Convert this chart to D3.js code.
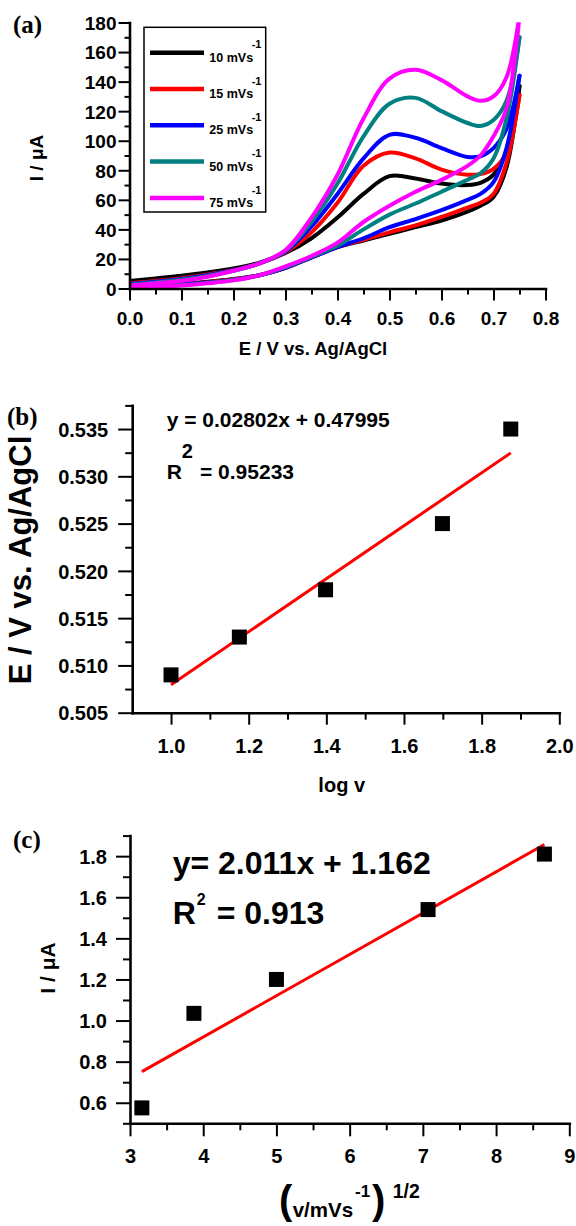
<!DOCTYPE html>
<html>
<head>
<meta charset="utf-8">
<script src="https://cdn.jsdelivr.net/npm/d3@7"></script>
<style>
  body { margin: 0; background: #fff; }
  svg text { font-family: "Liberation Sans", Arial, sans-serif; font-weight: bold; fill: #000; }
  svg text.panel { font-family: "Liberation Serif", "Times New Roman", serif; }
</style>
</head>
<body>
<svg id="fig" width="576" height="1226"></svg>
<script>
// ---------- (a) cyclic voltammograms at five scan rates ----------
const scanRates = ["10", "15", "25", "50", "75"];
const curveColors = ["#000000", "#ff0000", "#0000ff", "#008080", "#ff00ff"];
const potential = [0, 0.05, 0.1, 0.15, 0.2, 0.25, 0.3, 0.35, 0.4, 0.45, 0.5, 0.55, 0.6, 0.65, 0.675, 0.7, 0.725, 0.75];
// anodic (forward) and cathodic (reverse) branch currents, µA, on the potential grid above
const fwd10 = [5, 6.8, 8.6, 10.8, 13.5, 17.5, 24, 34, 48, 64, 76, 74.5, 71, 70, 71.5, 77, 93, 137];
const rev10 = [1.8, 2.3, 3, 4.5, 6.4, 9, 14, 21, 28, 32.5, 37, 41.5, 46, 52, 56, 62, 82, 137];
const fwd15 = [3.5, 5, 7, 9.5, 12.5, 17, 24.5, 38, 58, 83, 92, 88, 80.5, 77, 77.5, 81, 92, 131];
const rev15 = [1.2, 1.8, 2.8, 4.3, 6.2, 9, 14, 21, 28, 33, 38, 42.7, 48.4, 54.8, 58, 64, 85, 131];
const fwd25 = [3, 4.5, 6.5, 9, 12.3, 17, 25, 42, 64, 88, 104, 102, 95, 89, 89.5, 95, 108, 144];
const rev25 = [1, 1.6, 2.6, 4, 6, 9, 14, 21, 28, 34, 41.5, 47, 53, 60, 64, 72, 95, 144];
const fwd50 = [2.5, 4, 6, 8.5, 12, 17, 25.5, 45, 71, 103, 125, 129, 120, 112, 110, 114, 127, 170];
const rev50 = [0.8, 1.3, 2.3, 3.8, 5.8, 9, 14.5, 21.5, 29, 40, 50, 57.5, 65.5, 73.5, 78, 88, 115, 170];
const fwd75 = [2, 3.5, 5.2, 8, 12, 17, 26, 48, 77, 115, 142, 148, 141, 130, 127, 130, 143, 185];
const rev75 = [0.5, 1, 2, 3.5, 5.5, 9, 15, 22, 31, 45, 56, 65.5, 73.5, 83, 90, 103, 122, 185];
const ticksA_x = [0, 0.1, 0.2, 0.3, 0.4, 0.5, 0.6, 0.7, 0.8];
const minorA_x = [0.05, 0.15, 0.25, 0.35, 0.45, 0.55, 0.65, 0.75];
const ticksA_y = [0, 20, 40, 60, 80, 100, 120, 140, 160, 180];
const minorA_y = [10, 30, 50, 70, 90, 110, 130, 150, 170];

// ---------- (b) peak potential vs log of scan rate ----------
const logScanRate = [1.0, 1.176, 1.398, 1.699, 1.875];
const peakPotential = [0.509, 0.513, 0.518, 0.525, 0.535];
const ticksB_x = [1.0, 1.2, 1.4, 1.6, 1.8, 2.0];
const minorB_x = [1.1, 1.3, 1.5, 1.7, 1.9];
const ticksB_y = [0.505, 0.510, 0.515, 0.520, 0.525, 0.530, 0.535];
const minorB_y = [0.5075, 0.5125, 0.5175, 0.5225, 0.5275, 0.5325, 0.5375];

// ---------- (c) peak current vs square root of scan rate ----------
const sqrtScanRate = [3.162, 3.873, 5.0, 7.071, 8.660];
const peakCurrent = [0.575, 1.035, 1.2, 1.54, 1.81];
const ticksC_x = [3, 4, 5, 6, 7, 8, 9];
const minorC_x = [3.5, 4.5, 5.5, 6.5, 7.5, 8.5];
const ticksC_y = [0.6, 0.8, 1.0, 1.2, 1.4, 1.6, 1.8];
const minorC_y = [0.5, 0.7, 0.9, 1.1, 1.3, 1.5, 1.7, 1.9];

const svg = d3.select("#fig");

function drawAxis(parent, scale, side, pos, majors, minors, fmt, opt) {
  const maker = side === "bottom" ? d3.axisBottom : d3.axisLeft;
  const tr = side === "bottom" ? `translate(0,${pos})` : `translate(${pos},0)`;
  const gMin = parent.append("g").attr("transform", tr)
    .call(maker(scale).tickValues(minors).tickSize(opt.minor).tickSizeOuter(0).tickFormat(() => ""));
  const gMaj = parent.append("g").attr("transform", tr)
    .call(maker(scale).tickValues(majors).tickSize(opt.major).tickSizeOuter(0).tickFormat(fmt));
  gMin.select(".domain").remove();
  [gMin, gMaj].forEach(g => {
    g.attr("font-family", null).attr("font-size", null);
    g.selectAll(".tick line").attr("stroke", "#000").attr("stroke-width", 2);
  });
  gMaj.select(".domain").attr("stroke", "#000").attr("stroke-width", 2.6).attr("stroke-linecap", "square");
  const t = gMaj.selectAll(".tick text").attr("font-size", opt.font).attr("fill", "#000");
  if (side === "bottom") t.attr("y", opt.label).attr("dy", null);
  else t.attr("x", -opt.label).attr("dy", "0.36em");
  return gMaj;
}

function addText(x, y, str, size, extra) {
  const t = svg.append("text").attr("x", x).attr("y", y).attr("font-size", size).text(str);
  if (extra) extra(t);
  return t;
}

function leastSquares(xs, ys) {
  const mx = d3.mean(xs), my = d3.mean(ys);
  const sxy = d3.sum(xs, (v, i) => (v - mx) * (ys[i] - my));
  const sxx = d3.sum(xs, v => (v - mx) * (v - mx));
  const slope = sxy / sxx;
  return { slope, intercept: my - slope * mx };
}

// ================= panel (a) =================
const xA = d3.scaleLinear().domain([0, 0.8]).range([129.5, 545.5]);
const yA = d3.scaleLinear().domain([0, 180]).range([288.5, 22.5]);

svg.append("clipPath").attr("id", "clipA").append("rect")
  .attr("x", xA(0)).attr("y", yA(180))
  .attr("width", xA(0.8) - xA(0)).attr("height", yA(0) - yA(180));

const branches = [[fwd10, rev10], [fwd15, rev15], [fwd25, rev25], [fwd50, rev50], [fwd75, rev75]];
const cvLine = d3.line()
  .x((d, i) => xA(potential[i]))
  .y(d => yA(d))
  .curve(d3.curveCatmullRom.alpha(0.5));

const gCurves = svg.append("g").attr("clip-path", "url(#clipA)");
branches.forEach((pair, k) => {
  pair.forEach(arr => {
    gCurves.append("path").attr("d", cvLine(arr))
      .attr("fill", "none").attr("stroke", curveColors[k])
      .attr("stroke-width", 4).attr("stroke-linecap", "round").attr("stroke-linejoin", "round");
  });
});

drawAxis(svg, xA, "bottom", yA(0), ticksA_x, minorA_x, d3.format(".1f"), { major: 12, minor: 6, font: 19, label: 36 });
drawAxis(svg, yA, "left", xA(0), ticksA_y, minorA_y, d3.format("d"), { major: 11, minor: 5, font: 19, label: 13 });

addText(313, 355, "E / V vs. Ag/AgCl", 18.5, t => t.attr("text-anchor", "middle"));
svg.append("text").attr("transform", "translate(43,158) rotate(-90)")
  .attr("text-anchor", "middle").attr("font-size", 19).text("I / μA");
addText(13, 33, "(a)", 25, t => t.attr("class", "panel"));

// legend
const legend = svg.append("g");
legend.append("rect").attr("x", 144).attr("y", 27.3).attr("width", 121.7).attr("height", 184.7)
  .attr("fill", "#fff").attr("stroke", "#000").attr("stroke-width", 1.5);
scanRates.forEach((r, i) => {
  const ly = 52.7 + i * 36.3;
  legend.append("line").attr("x1", 150).attr("x2", 204).attr("y1", ly).attr("y2", ly)
    .attr("stroke", curveColors[i]).attr("stroke-width", 4.5);
  legend.append("text").attr("x", 209.3).attr("y", ly + 9).attr("font-size", 12.5).text(r + " mVs");
  legend.append("text").attr("x", 251.7).attr("y", ly - 4.4).attr("font-size", 11).text("-1");
});

// ================= panel (b) =================
const xB = d3.scaleLinear().domain([0.9, 2.0]).range([132.2, 559.3]);
const yB = d3.scaleLinear().domain([0.505, 0.5375]).range([712.7, 405.4]);

drawAxis(svg, xB, "bottom", yB(0.505), ticksB_x, minorB_x, d3.format(".1f"), { major: 12, minor: 7, font: 20, label: 40 });
drawAxis(svg, yB, "left", xB(0.9), ticksB_y, minorB_y, d3.format(".3f"), { major: 14, minor: 7, font: 20, label: 24 });

const fitB = leastSquares(logScanRate, peakPotential);
const xbExt = d3.extent(logScanRate);
svg.append("line")
  .attr("x1", xB(xbExt[0])).attr("y1", yB(fitB.slope * xbExt[0] + fitB.intercept))
  .attr("x2", xB(xbExt[1])).attr("y2", yB(fitB.slope * xbExt[1] + fitB.intercept))
  .attr("stroke", "#ff0000").attr("stroke-width", 3);
svg.append("g").selectAll("rect").data(logScanRate).join("rect")
  .attr("x", (d) => xB(d) - 7.5).attr("y", (d, i) => yB(peakPotential[i]) - 7.5)
  .attr("width", 15).attr("height", 15).attr("fill", "#000");

addText(166.7, 426.7, "y = 0.02802x + 0.47995", 21);
addText(166.7, 479, "R", 21);
addText(181.7, 458, "2", 20);
addText(200, 479, "= 0.95233", 21);
addText(341.7, 791.7, "log v", 20, t => t.attr("text-anchor", "middle"));
svg.append("text").attr("transform", "translate(31,560) rotate(-90)")
  .attr("text-anchor", "middle").attr("font-size", 31).text("E / V vs. Ag/AgCl");
addText(7, 425, "(b)", 25, t => t.attr("class", "panel"));

// ================= panel (c) =================
const xC = d3.scaleLinear().domain([3, 9]).range([130, 569.3]);
const yC = d3.scaleLinear().domain([0.5, 1.9]).range([1123.3, 835.6]);

drawAxis(svg, xC, "bottom", yC(0.5), ticksC_x, minorC_x, d3.format("d"), { major: 13, minor: 7, font: 20, label: 40 });
drawAxis(svg, yC, "left", xC(3), ticksC_y, minorC_y, d3.format(".1f"), { major: 14, minor: 7, font: 20, label: 23 });

const fitC = leastSquares(sqrtScanRate, peakCurrent);
const xcExt = d3.extent(sqrtScanRate);
svg.append("line")
  .attr("x1", xC(xcExt[0])).attr("y1", yC(fitC.slope * xcExt[0] + fitC.intercept))
  .attr("x2", xC(xcExt[1])).attr("y2", yC(fitC.slope * xcExt[1] + fitC.intercept))
  .attr("stroke", "#ff0000").attr("stroke-width", 3);
svg.append("g").selectAll("rect").data(sqrtScanRate).join("rect")
  .attr("x", (d) => xC(d) - 7.5).attr("y", (d, i) => yC(peakCurrent[i]) - 7.5)
  .attr("width", 15).attr("height", 15).attr("fill", "#000");

addText(172.7, 874.3, "y= 2.011x + 1.162", 32);
addText(172.7, 924, "R", 32);
addText(196.7, 905, "2", 16);
addText(216.7, 924, "= 0.913", 32);

svg.append("text").attr("transform", "translate(55,968) rotate(-90)")
  .attr("text-anchor", "middle").attr("font-size", 21).text("I / μA");
addText(13, 848, "(c)", 25, t => t.attr("class", "panel"));

// x-axis title: (v/mVs^-1)^1/2
addText(279, 1214, "(", 40, t => t.attr("font-weight", "normal"));
addText(292.7, 1216.7, "v/mVs", 20.5);
addText(355, 1196.7, "-1", 17);
addText(372, 1214, ")", 40, t => t.attr("font-weight", "normal"));
addText(392.7, 1198.3, "1/2", 19.5);
</script>
</body>
</html>
